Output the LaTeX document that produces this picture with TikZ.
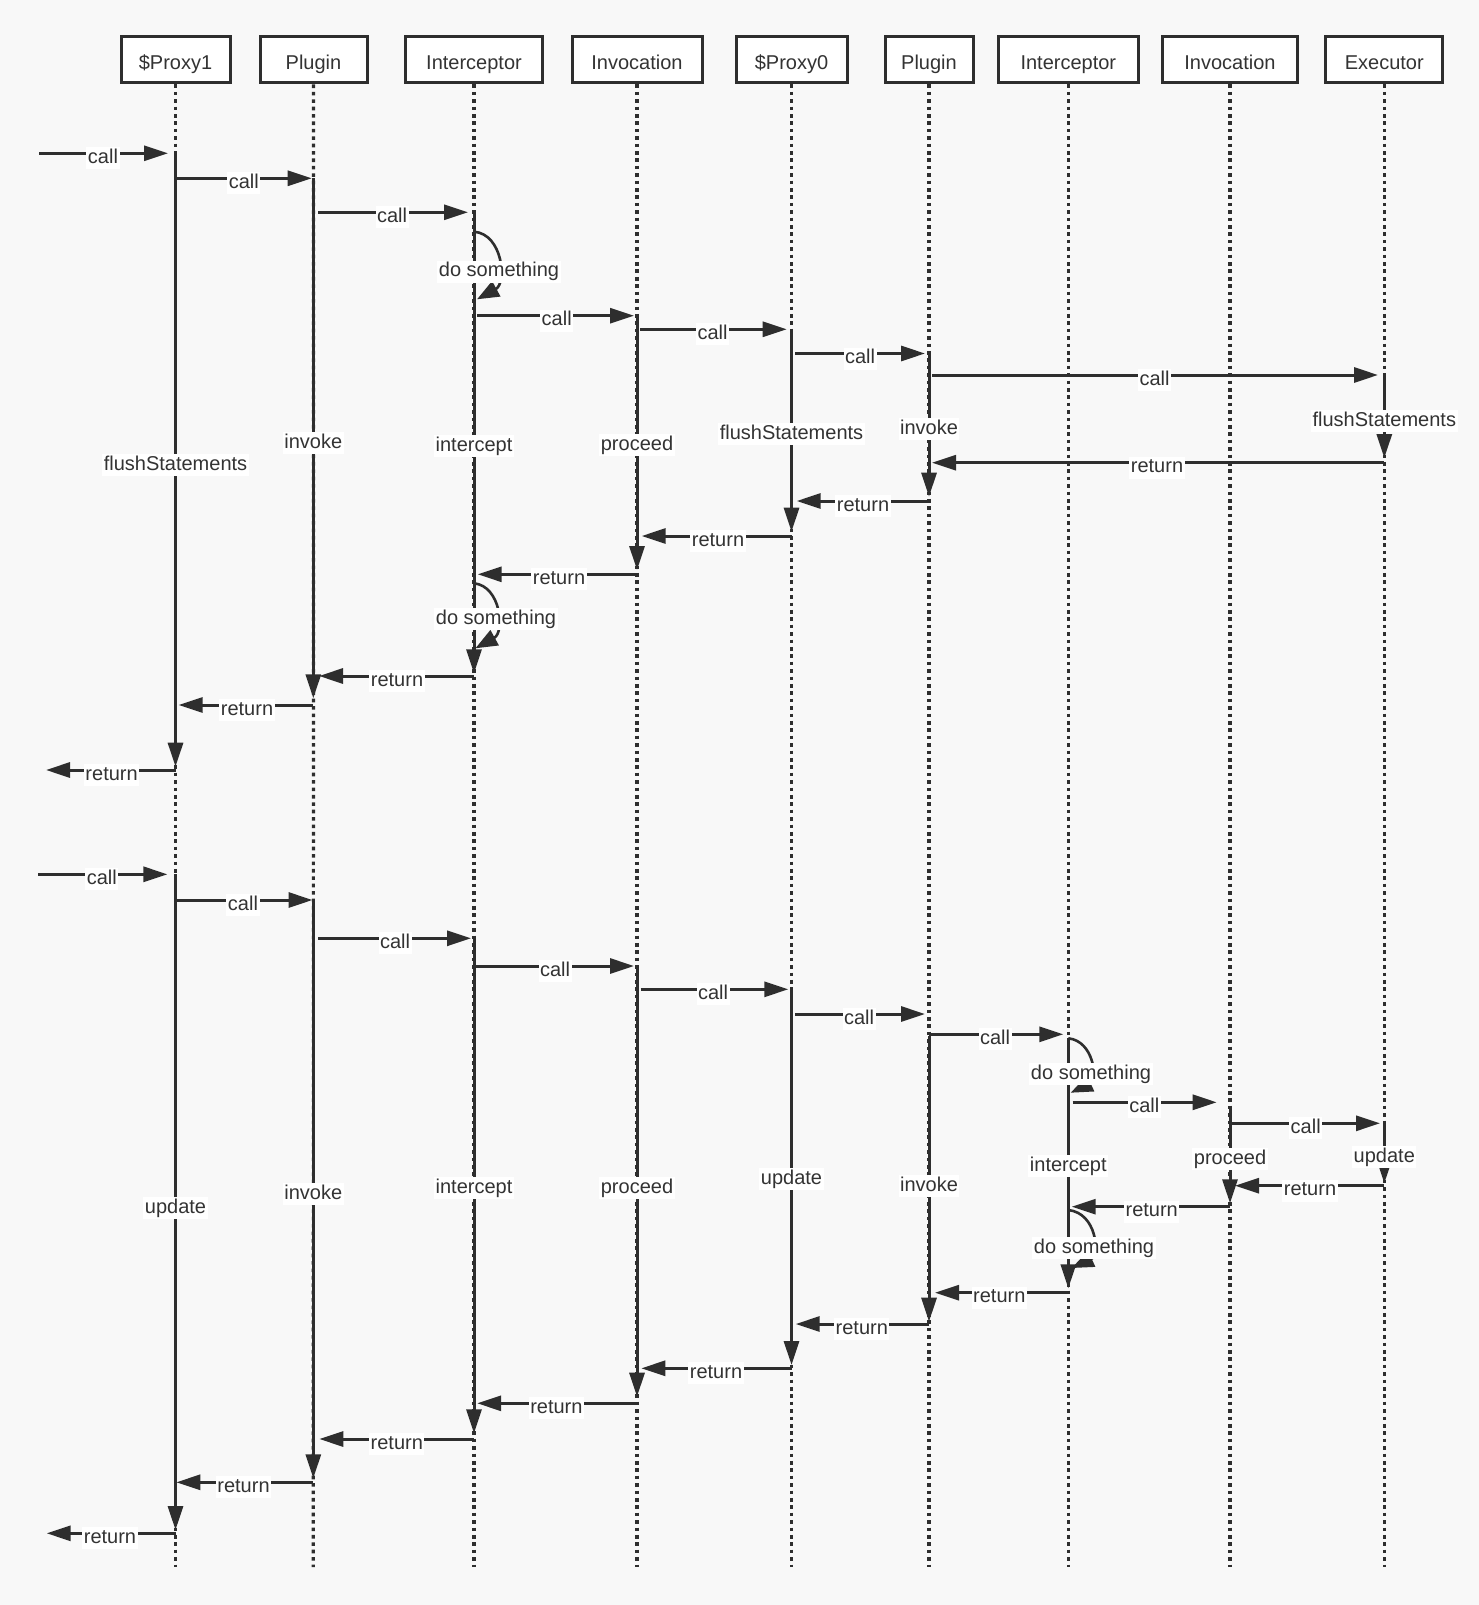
\documentclass[tikz,border=0pt]{standalone}
\usepackage{fontspec}
\setmainfont{Liberation Sans}
\usetikzlibrary{arrows.meta}
\definecolor{bg}{HTML}{F8F8F8}
\definecolor{ink}{HTML}{2E2E2E}
\definecolor{txt}{HTML}{333333}
\tikzset{
  lifeline/.style={draw=ink,line width=3.2pt,dash pattern=on 3.6pt off 3.8pt},
  headbox/.style={draw=ink,fill=white,line width=3pt,minimum height=46pt,inner sep=0pt,
    text height=19pt,text depth=0pt,text=txt,font=\fontsize{20}{24}\selectfont},
  actline/.style={draw=ink,line width=3pt,-{Triangle[length=24pt,width=15pt]}},
  msgline/.style={draw=ink,line width=3pt,-{Triangle[length=24pt,width=15pt]}},
  loopline/.style={draw=ink,line width=2.6pt,-{Triangle[length=22pt,width=17pt]}},
  lbl/.style={fill=white,inner sep=1.5pt,text height=14.5pt,text depth=4.5pt,text=txt,
    font=\fontsize{20}{24}\selectfont},
}
\newcommand\SeqAct[4]{%
  \coordinate (#1a) at (#2,#3);\coordinate (#1b) at (#2,#4);
  \draw[actline] (#1a) -- (#1b);}
\newcommand\SeqMsg[6]{%
  \coordinate (#1a) at (#2,#4);\coordinate (#1b) at (#3,#4);
  \draw[msgline] (#1a) -- (#1b);
  \node[lbl] (#1l) at (#6,#4+5) {#5};}
\begin{document}
\begin{tikzpicture}[x=1pt,y=-1pt]
\fill[bg] (0,0) rectangle (1479,1605);
\useasboundingbox (0,0) rectangle (1479,1605);
% header boxes
\node[headbox,minimum width=109pt] (h1) at (175.5,60) {\$Proxy1};
\node[headbox,minimum width=107pt] (h2) at (313.5,60) {Plugin};
\node[headbox,minimum width=137pt] (h3) at (474,60) {Interceptor};
\node[headbox,minimum width=130pt] (h4) at (637,60) {Invocation};
\node[headbox,minimum width=111pt] (h5) at (791.5,60) {\$Proxy0};
\node[headbox,minimum width=88pt] (h6) at (929,60) {Plugin};
\node[headbox,minimum width=140pt] (h7) at (1068.3,60) {Interceptor};
\node[headbox,minimum width=135pt] (h8) at (1230,60) {Invocation};
\node[headbox,minimum width=117pt] (h9) at (1384.3,60) {Executor};
% lifelines
\foreach \i/\x in {1/175.5,2/313.3,3/474,4/637,5/791.5,6/929,7/1068.3,8/1230,9/1384.3}{
  \coordinate (e\i) at (\x,1567);
  \draw[lifeline] (h\i.south) -- (e\i);
}
% ---------------- top sequence: activations
\SeqAct{ta1}{175.5}{153.3}{766.7}
\SeqAct{ta2}{313.3}{178.3}{698.3}
\SeqAct{ta3}{474}{212.3}{673.3}
\SeqAct{ta4}{637}{315.7}{570}
\SeqAct{ta5}{791.5}{329.3}{531.7}
\SeqAct{ta6}{929}{353.5}{496.7}
\SeqAct{ta7}{1384.3}{375}{458}
% self loops
\coordinate (tl1a) at (474,231.7); \coordinate (tl1b) at (477,299.3);
\draw[loopline] (tl1a) .. controls (503,234) and (507,283) .. (tl1b);
\coordinate (tl2a) at (474,583.3); \coordinate (tl2b) at (475.4,648.3);
\draw[loopline] (tl2a) .. controls (501,586) and (505,632) .. (tl2b);
% messages
\SeqMsg{tm1}{39}{168}{153.3}{call}{103}
\SeqMsg{tm2}{175.5}{311.7}{178.3}{call}{243.8}
\SeqMsg{tm3}{318}{468}{212.3}{call}{392}
\SeqMsg{tm4}{477}{634}{315.7}{call}{556.7}
\SeqMsg{tm5}{640}{786.7}{329.3}{call}{712.5}
\SeqMsg{tm6}{795}{925}{353.5}{call}{860}
\SeqMsg{tm7}{932}{1378}{375}{call}{1154.6}
\SeqMsg{tm8}{1384.3}{932}{462.7}{return}{1157}
\SeqMsg{tm9}{929}{796.7}{501}{return}{863}
\SeqMsg{tm10}{791.5}{641.7}{536}{return}{718}
\SeqMsg{tm11}{637}{477.7}{574.3}{return}{559}
\SeqMsg{tm12}{474}{319}{676}{return}{397}
\SeqMsg{tm13}{313.3}{178.6}{705}{return}{247}
\SeqMsg{tm14}{175.5}{46}{770}{return}{111.6}
% activation labels
\node[lbl] (tx1) at (175.5,465) {flushStatements};
\node[lbl] (tx2) at (313.3,443) {invoke};
\node[lbl] (tx3) at (474,446) {intercept};
\node[lbl] (tx4) at (637,445) {proceed};
\node[lbl] (tx5) at (791.5,434) {flushStatements};
\node[lbl] (tx6) at (929,429) {invoke};
\node[lbl] (tx7) at (1384.3,421) {flushStatements};
\node[lbl] (tx8) at (499,271.7) {do something};
\node[lbl] (tx9) at (496,619.3) {do something};
% ---------------- bottom sequence: activations
\SeqAct{ba1}{175.5}{874.3}{1530}
\SeqAct{ba2}{313.3}{900}{1478.3}
\SeqAct{ba3}{474}{938.3}{1433.3}
\SeqAct{ba4}{637}{966}{1396.7}
\SeqAct{ba5}{791.5}{989.3}{1365}
\SeqAct{ba6}{929}{1036}{1321.7}
\SeqAct{ba7}{1068.3}{1038.3}{1288.3}
\SeqAct{ba8}{1230}{1106}{1203.3}
\SeqAct{ba9}{1384.3}{1123.3}{1183.3}
% self loops
\coordinate (bl1a) at (1068.3,1038.3); \coordinate (bl1b) at (1070.7,1092.7);
\draw[loopline] (bl1a) .. controls (1094,1041) and (1098,1080) .. (bl1b);
\coordinate (bl2a) at (1068.3,1210); \coordinate (bl2b) at (1071.7,1268);
\draw[loopline] (bl2a) .. controls (1097,1213) and (1100,1255) .. (bl2b);
% messages
\SeqMsg{bm1}{38}{167.4}{874.3}{call}{101.8}
\SeqMsg{bm2}{175.5}{312.5}{900}{call}{243}
\SeqMsg{bm3}{318}{471}{938.3}{call}{395}
\SeqMsg{bm4}{475.4}{634}{966}{call}{555}
\SeqMsg{bm5}{640.6}{788.3}{989.3}{call}{713}
\SeqMsg{bm6}{795}{925}{1014}{call}{859}
\SeqMsg{bm7}{929}{1063.3}{1034.3}{call}{995}
\SeqMsg{bm8}{1072.7}{1216.7}{1102.3}{call}{1144.3}
\SeqMsg{bm9}{1231.7}{1380}{1123.3}{call}{1305.7}
\SeqMsg{bm10}{1384.3}{1235}{1185.7}{return}{1310}
\SeqMsg{bm11}{1230}{1071.7}{1206.7}{return}{1151.7}
\SeqMsg{bm12}{1068.3}{935}{1292.7}{return}{999.3}
\SeqMsg{bm13}{929}{795.7}{1324}{return}{861.8}
\SeqMsg{bm14}{791.5}{641.3}{1368.3}{return}{716}
\SeqMsg{bm15}{637}{477.2}{1403.3}{return}{556.4}
\SeqMsg{bm16}{474}{319.3}{1439}{return}{396.8}
\SeqMsg{bm17}{313.3}{176.3}{1482.3}{return}{243.5}
\SeqMsg{bm18}{175.5}{46.7}{1533.3}{return}{110}
% activation labels
\node[lbl] (bx1) at (175.5,1208) {update};
\node[lbl] (bx2) at (313.3,1194) {invoke};
\node[lbl] (bx3) at (474,1188) {intercept};
\node[lbl] (bx4) at (637,1188) {proceed};
\node[lbl] (bx5) at (791.5,1179) {update};
\node[lbl] (bx6) at (929,1186) {invoke};
\node[lbl] (bx7) at (1068.3,1166) {intercept};
\node[lbl] (bx8) at (1230,1159) {proceed};
\node[lbl] (bx9) at (1384.3,1157) {update};
\node[lbl] (bx10) at (1091,1074.3) {do something};
\node[lbl] (bx11) at (1094,1248.3) {do something};
\end{tikzpicture}
\end{document}
